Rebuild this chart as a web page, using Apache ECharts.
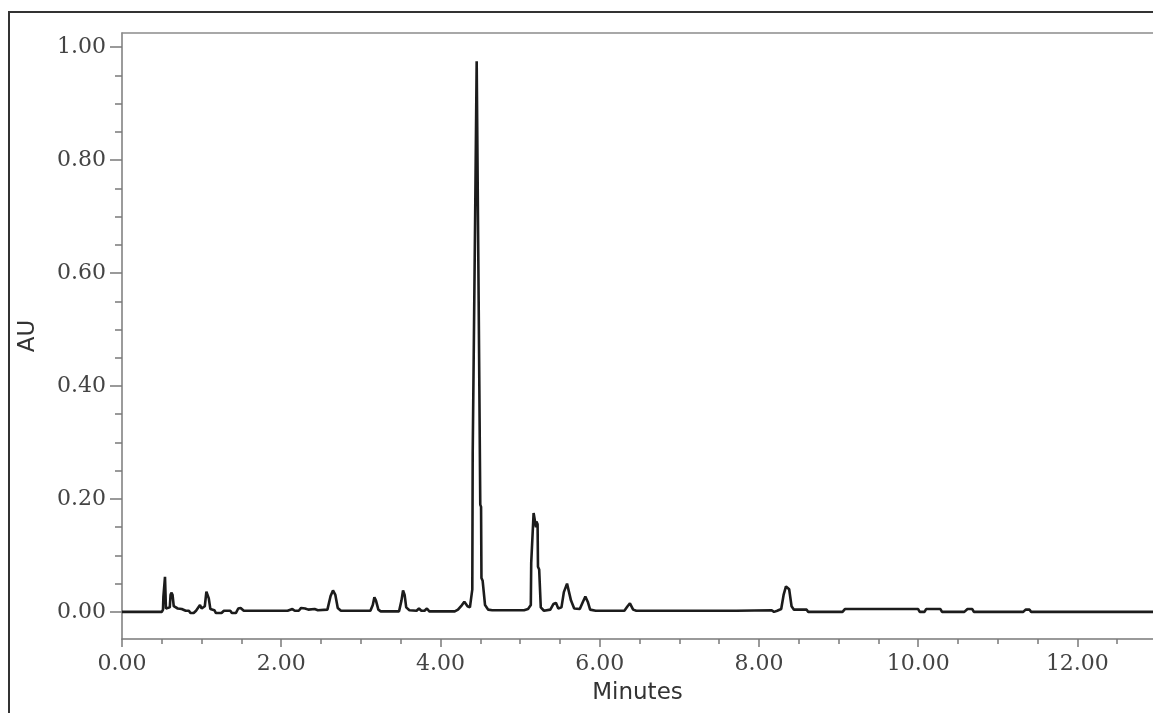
<!DOCTYPE html>
<html>
<head>
<meta charset="utf-8">
<script src="https://cdn.jsdelivr.net/npm/echarts@6/dist/echarts.min.js"></script>
<style>
  html, body { margin: 0; padding: 0; background: #fff; }
  #Chart { width: 1153px; height: 713px; }
</style>
</head>
<body>
<div id="Chart"></div>
<script>
// retention time (min) and absorbance (AU)
var minutes = [
  0.00, 0.50, 0.515, 0.52, 0.535, 0.54, 0.548, 0.552, 0.60, 0.61, 0.62, 0.635, 0.65,
  0.70, 0.72, 0.75, 0.80, 0.84, 0.86, 0.90, 0.93, 0.96, 0.98, 1.00, 1.04, 1.06, 1.08,
  1.09, 1.11, 1.16, 1.18, 1.25, 1.28, 1.36, 1.38, 1.43, 1.46, 1.49, 1.53, 2.08, 2.10,
  2.14, 2.17, 2.22, 2.25, 2.30, 2.34, 2.42, 2.46, 2.58, 2.62, 2.65, 2.68, 2.71, 2.75,
  3.12, 3.15, 3.17, 3.19, 3.22, 3.25, 3.48, 3.51, 3.53, 3.55, 3.57, 3.61, 3.70, 3.73,
  3.76, 3.80, 3.83, 3.86, 4.18, 4.22, 4.27, 4.30, 4.34, 4.37, 4.40, 4.405, 4.43, 4.435,
  4.45, 4.455, 4.47, 4.475, 4.48, 4.495, 4.50, 4.51, 4.515, 4.53, 4.56, 4.60, 4.65,
  4.88, 4.90, 4.92, 5.05, 5.10, 5.135, 5.14, 5.165, 5.17, 5.195, 5.20, 5.205, 5.22,
  5.225, 5.24, 5.26, 5.30, 5.38, 5.42, 5.45, 5.48, 5.52, 5.55, 5.575, 5.59, 5.61, 5.64,
  5.68, 5.75, 5.79, 5.82, 5.85, 5.88, 5.95, 6.31, 6.35, 6.38, 6.42, 6.46, 7.32, 7.34,
  7.36, 7.68, 7.70, 7.72, 8.16, 8.19, 8.23, 8.28, 8.31, 8.34, 8.36, 8.38, 8.41, 8.44,
  8.60, 8.62, 9.00, 9.02, 9.05, 9.08, 10.00, 10.02, 10.08, 10.10, 10.28, 10.30, 10.58,
  10.62, 10.68, 10.70, 11.32, 11.35, 11.40, 11.42, 12.95
];
var au = [
  0.000, 0.000, 0.004, 0.027, 0.027, 0.062, 0.062, 0.006, 0.008, 0.030, 0.034, 0.030, 0.010,
  0.006, 0.003, 0.005, 0.002, 0.002, -0.002, -0.002, 0.002, 0.008, 0.012, 0.006, 0.010, 0.036, 0.035,
  0.024, 0.005, 0.003, -0.002, -0.002, 0.002, 0.002, -0.002, -0.002, 0.006, 0.007, 0.002, 0.002, 0.005,
  0.005, 0.002, 0.002, 0.007, 0.006, 0.004, 0.005, 0.003, 0.004, 0.028, 0.038, 0.030, 0.007, 0.002,
  0.002, 0.012, 0.026, 0.020, 0.004, 0.001, 0.001, 0.020, 0.038, 0.030, 0.008, 0.003, 0.002, 0.006,
  0.002, 0.002, 0.006, 0.001, 0.001, 0.004, 0.012, 0.018, 0.010, 0.008, 0.040, 0.280, 0.280, 0.690,
  0.690, 0.975, 0.977, 0.977, 0.550, 0.550, 0.190, 0.186, 0.060, 0.055, 0.012, 0.004, 0.003,
  0.003, 0.005, 0.003, 0.003, 0.005, 0.012, 0.087, 0.090, 0.175, 0.176, 0.150, 0.160, 0.155,
  0.080, 0.075, 0.008, 0.002, 0.004, 0.014, 0.016, 0.006, 0.008, 0.035, 0.037, 0.050, 0.048, 0.020,
  0.006, 0.005, 0.018, 0.027, 0.018, 0.004, 0.002, 0.002, 0.010, 0.015, 0.004, 0.002, 0.002, 0.005,
  0.002, 0.002, 0.005, 0.002, 0.003, 0.000, 0.002, 0.005, 0.030, 0.045, 0.048, 0.040, 0.010, 0.004,
  0.004, 0.000, 0.000, 0.003, 0.000, 0.005, 0.005, 0.000, 0.000, 0.005, 0.005, 0.000, 0.000,
  0.005, 0.005, 0.000, 0.000, 0.004, 0.004, 0.000, 0.000
];

// axis ticks
var xMajor = [0, 2, 4, 6, 8, 10, 12];
var xMinor = [0.5, 1, 1.5, 2.5, 3, 3.5, 4.5, 5, 5.5, 6.5, 7, 7.5, 8.5, 9, 9.5, 10.5, 11, 11.5, 12.5];
var yMajor = [0, 0.2, 0.4, 0.6, 0.8, 1.0];
var yMinor = [0.05, 0.1, 0.15, 0.25, 0.3, 0.35, 0.45, 0.5, 0.55, 0.65, 0.7, 0.75, 0.85, 0.9, 0.95];

// plot runs off the right edge of the picture
var xMin = 0, xMax = 12.95;
var yMin = -0.048, yMax = 1.025;

var trace = [];
for (var i = 0; i < minutes.length; i++) {
  trace.push([minutes[i], au[i]]);
}

var myChart = echarts.init(document.getElementById('Chart'));
var axisGray = '#7a7a7a';
var labelFont = {
  fontFamily: 'DejaVu Serif',
  fontSize: 22,
  color: '#444'
};

option = {
  backgroundColor: '#fff',
  animation: false,
  graphic: [{
    type: 'rect',
    shape: { x: 9, y: 12, width: 2000, height: 2000 },
    style: { fill: 'none', stroke: '#333', lineWidth: 2 },
    silent: true
  }],
  grid: {
    left: 122,
    top: 33,
    right: 0,
    bottom: 74,
    show: false
  },
  xAxis: [{
    type: 'value',
    min: xMin,
    max: xMax,
    position: 'bottom',
    name: 'Minutes',
    nameLocation: 'middle',
    nameGap: 43,
    nameTextStyle: { fontFamily: 'DejaVu Sans', fontSize: 23, color: '#333' },
    axisLine: { show: true, onZero: false, lineStyle: { color: axisGray, width: 1.5 } },
    axisTick: { show: true, customValues: xMajor, length: 8, lineStyle: { color: axisGray, width: 1.5 } },
    axisLabel: Object.assign({ customValues: xMajor, margin: 14, formatter: function (v) { return v.toFixed(2); } }, labelFont),
    splitLine: { show: false }
  }, {
    type: 'value',
    min: xMin,
    max: xMax,
    position: 'bottom',
    axisLine: { show: false, onZero: false },
    axisTick: { show: true, customValues: xMinor, length: 5, lineStyle: { color: axisGray, width: 1.5 } },
    axisLabel: { show: false },
    splitLine: { show: false }
  }, {
    // top frame line only
    type: 'value',
    min: xMin,
    max: xMax,
    position: 'top',
    axisLine: { show: true, onZero: false, lineStyle: { color: '#8c8c8c', width: 1.5 } },
    axisTick: { show: false },
    axisLabel: { show: false },
    splitLine: { show: false }
  }],
  yAxis: [{
    type: 'value',
    min: yMin,
    max: yMax,
    position: 'left',
    name: 'AU',
    nameLocation: 'middle',
    nameGap: 82,
    nameTextStyle: { fontFamily: 'DejaVu Sans', fontSize: 23, color: '#333' },
    axisLine: { show: true, onZero: false, lineStyle: { color: axisGray, width: 1.5 } },
    axisTick: { show: true, customValues: yMajor, length: 12, lineStyle: { color: axisGray, width: 1.5 } },
    axisLabel: Object.assign({ customValues: yMajor, margin: 16, formatter: function (v) { return v.toFixed(2); } }, labelFont),
    splitLine: { show: false }
  }, {
    type: 'value',
    min: yMin,
    max: yMax,
    position: 'left',
    axisLine: { show: false, onZero: false },
    axisTick: { show: true, customValues: yMinor, length: 7, lineStyle: { color: axisGray, width: 1.5 } },
    axisLabel: { show: false },
    splitLine: { show: false }
  }],
  series: [{
    type: 'line',
    xAxisIndex: 0,
    yAxisIndex: 0,
    data: trace,
    showSymbol: false,
    symbol: 'none',
    sampling: 'none',
    lineStyle: { color: '#1c1c1c', width: 2.6 },
    clip: true
  }]
};

myChart.setOption(option);
</script>
</body>
</html>
